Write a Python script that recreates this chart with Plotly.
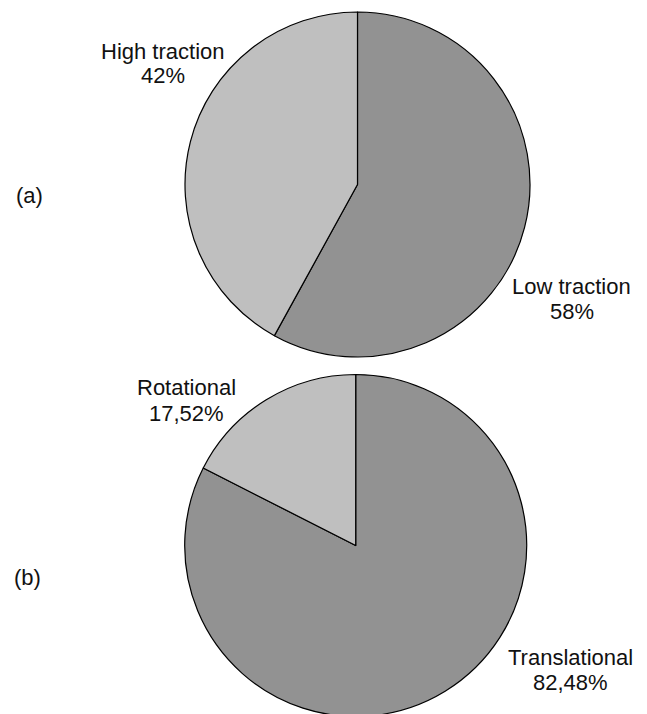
import plotly.graph_objects as go

# Share of slip events by traction condition (a) and by motion type (b)
traction_labels = ["Low traction", "High traction"]
traction_values = [58, 42]

motion_labels = ["Translational", "Rotational"]
motion_values = [82.48, 17.52]

panel_tags = ["(a)", "(b)"]

W, H = 647, 717
DARK = "#929292"
LIGHT = "#bfbfbf"
FONT = "Liberation Sans, Arial, Helvetica, sans-serif"


def fmt_pct(v):
    if float(v).is_integer():
        return f"{int(v)}%"
    return f"{v:.2f}".replace(".", ",") + "%"


def px_domain(cx, cy, r):
    """Pixel centre/radius -> paper domain for a pie."""
    return dict(
        x=[(cx - r) / W, (cx + r) / W],
        y=[max(0.0, 1 - (cy + r) / H), min(1.0, 1 - (cy - r) / H)],
    )


fig = go.Figure()

pies = [
    (traction_labels, traction_values, (357.5, 184.5, 172.5)),
    (motion_labels, motion_values, (355.7, 545.5, 171.0)),
]

for labels, values, (cx, cy, r) in pies:
    fig.add_trace(go.Pie(
        labels=labels,
        values=values,
        sort=False,
        direction="clockwise",
        rotation=0,
        marker=dict(colors=[DARK, LIGHT], line=dict(color="#000000", width=1.2)),
        textinfo="none",
        hoverinfo="label+percent",
        showlegend=False,
        domain=px_domain(cx, cy, r),
    ))

# Label anchor points (pixel centres of the name line and percent line)
label_pos = {
    "High traction": (162.5, 51.5, 75.5),
    "Low traction": (571.5, 286.0, 311.0),
    "Rotational": (187.0, 387.5, 413.5),
    "Translational": (570.0, 657.5, 682.5),
}

annotations = []
for labels, values in [(traction_labels, traction_values), (motion_labels, motion_values)]:
    for lab, val in zip(labels, values):
        x, y1, y2 = label_pos[lab]
        for txt, y in [(lab, y1), (fmt_pct(val), y2)]:
            annotations.append(dict(
                text=txt, x=x / W, y=1 - y / H, xref="paper", yref="paper",
                xanchor="center", yanchor="middle", showarrow=False,
                font=dict(family=FONT, size=22, color="#111111"),
            ))

for tag, (x, y) in zip(panel_tags, [(29, 195), (27, 577)]):
    annotations.append(dict(
        text=tag, x=x / W, y=1 - y / H, xref="paper", yref="paper",
        xanchor="center", yanchor="middle", showarrow=False,
        font=dict(family=FONT, size=22, color="#111111"),
    ))

fig.update_layout(
    width=W, height=H,
    margin=dict(l=0, r=0, t=0, b=0),
    paper_bgcolor="white",
    plot_bgcolor="white",
    annotations=annotations,
)

fig.write_html(
    "out.html",
    post_script="document.body.style.margin='0';document.body.style.overflow='hidden';",
)
